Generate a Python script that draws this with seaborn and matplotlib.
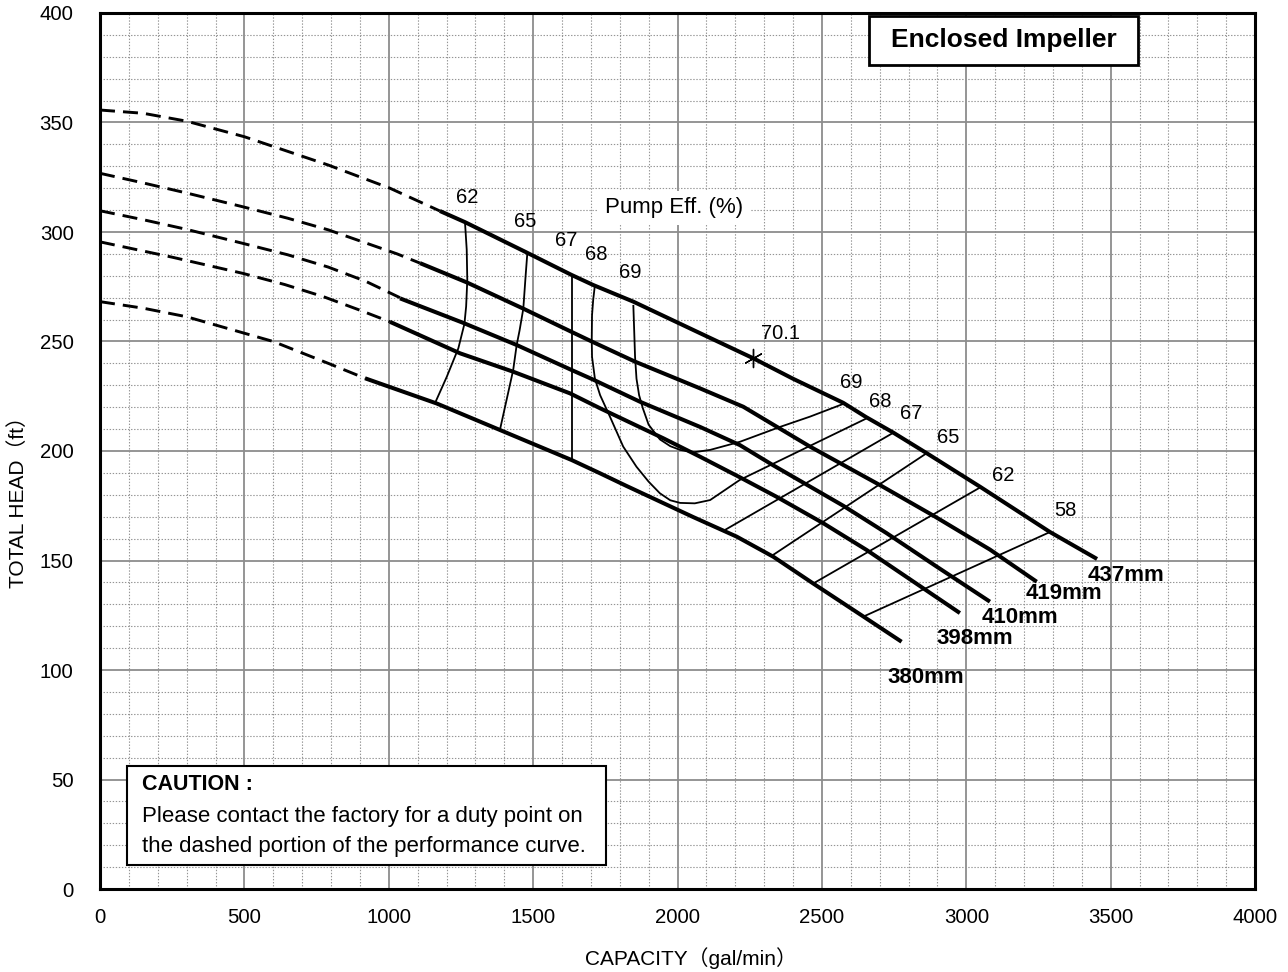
import numpy as np
import pandas as pd
import matplotlib
matplotlib.use("Agg")
import matplotlib.pyplot as plt
import seaborn as sns
from matplotlib.patches import Rectangle
from matplotlib.ticker import MultipleLocator

# ---------------- data ----------------
# Head curves: dashed (consult factory) part and solid part
h437_dash_x = [0, 150, 300, 500, 790, 1004, 1177]
h437_dash_y = [355.7, 354.2, 350.6, 343.5, 330.6, 320, 309.6]
h437_x = [1177, 1264, 1472, 1633, 1708, 1847, 2078, 2263, 2400, 2574, 2653, 2746, 2863, 3050, 3290, 3453]
h437_y = [309.6, 304.5, 291, 280.4, 275.8, 268.2, 253.8, 242.3, 233, 222, 215.5, 208.5, 199, 183.5, 163, 150.7]

h419_dash_x = [0, 150, 300, 495, 650, 790, 1029, 1108]
h419_dash_y = [326.8, 322.4, 317.8, 311.5, 306.3, 301, 290, 285.8]
h419_x = [1108, 1270, 1466, 1633, 1703, 1853, 2078, 2228, 2459, 2707, 2886, 3082, 3244]
h419_y = [285.8, 277, 265, 254.4, 250, 240.8, 228.6, 220.2, 202, 184, 170.5, 155, 140.3]

h410_dash_x = [0, 150, 300, 495, 650, 790, 920, 1039]
h410_dash_y = [309.7, 305.6, 301.2, 294.8, 289.6, 284, 277.5, 270]
h410_x = [1039, 1258, 1443, 1633, 1708, 1870, 2078, 2216, 2331, 2574, 2724, 2900, 3082]
h410_y = [269.7, 258.5, 248.4, 237, 232.6, 222.5, 211, 202.7, 193.5, 175, 162.5, 147, 131.2]

h398_dash_x = [0, 250, 495, 640, 773, 900, 1004]
h398_dash_y = [295.5, 288.5, 281.1, 276, 270.5, 264.3, 259]
h398_x = [1004, 1247, 1431, 1628, 1732, 1951, 2078, 2216, 2343, 2505, 2655, 2978]
h398_y = [259, 244.6, 236.2, 226.3, 219.5, 205.8, 197.4, 188, 179.1, 167, 154.8, 126]

h380_dash_x = [0, 150, 300, 502, 600, 791, 918]
h380_dash_y = [268.2, 265.2, 261.3, 253.7, 250, 240, 233.2]
h380_x = [918, 1166, 1385, 1633, 1732, 1824, 2055, 2205, 2332, 2470, 2644, 2776]
h380_y = [233.2, 221.7, 209.6, 195.9, 189.8, 184, 169.8, 160.9, 151.7, 139.5, 124.4, 112.9]

# Efficiency contours
e62_left_x = [1264, 1270, 1272, 1268, 1262, 1241, 1201, 1160]
e62_left_y = [304.5, 292, 278, 266, 258, 246.9, 233.9, 221.8]
e65_left_x = [1480, 1474, 1466, 1453, 1443, 1431, 1408, 1385]
e65_left_y = [290.5, 280, 265, 255, 248.4, 237, 223.3, 209.6]
e67_left_x = [1635, 1635]
e67_left_y = [280, 195.8]
e68_x = [1714, 1708, 1704, 1703, 1704, 1714, 1732, 1766, 1812, 1858, 1900, 1939, 1975, 2009, 2060, 2113, 2216, 2655]
e68_y = [275.8, 269, 262, 251, 243, 233, 225.5, 215.7, 202, 192.8, 186, 180.7, 177.5, 176.3, 176.1, 177.6, 186.8, 214.9]
e69_x = [1847, 1850, 1853, 1858, 1867, 1880, 1900, 1939, 1975, 2009, 2055, 2113, 2216, 2355, 2459, 2574]
e69_y = [266.7, 255, 243, 233, 225.5, 219.5, 212, 205.3, 202.2, 200.5, 199.4, 200.5, 204.2, 211, 215.7, 221.5]
e67_right_x = [2165, 2747]
e67_right_y = [164, 208.3]
e65_right_x = [2326, 2863]
e65_right_y = [152.1, 199]
e62_right_x = [2470, 3050]
e62_right_y = [139.5, 183.5]
e58_right_x = [2644, 3290]
e58_right_y = [124.4, 163]

# Best efficiency point
bep_x = [2260]
bep_y = [242.3]
bep_label = "70.1"

# Labels
eff_left_labels = ["62", "65", "67", "68", "69"]
eff_right_labels = ["69", "68", "67", "65", "62", "58"]
size_labels = ["437mm", "419mm", "410mm", "398mm", "380mm"]

# ---------------- layout ----------------
eff_left_pos_x = [1271, 1472, 1613, 1720, 1835]
eff_left_pos_y = [315.7, 305, 296, 289.5, 281.5]
eff_right_pos_x = [2603, 2701, 2811, 2938, 3128, 3342]
eff_right_pos_y = [231.3, 222.5, 216.9, 206.2, 189, 173]
size_pos_x = [3552, 3340, 3186, 3030, 2859]
size_pos_y = [143, 135, 124.2, 114.6, 96.6]

sns.set_theme(style="white")
FONT = ["Liberation Sans", "Noto Sans CJK JP", "DejaVu Sans"]
plt.rcParams["font.family"] = FONT
plt.rcParams["lines.scale_dashes"] = False
plt.rcParams["text.color"] = "black"
plt.rcParams["axes.labelcolor"] = "black"
plt.rcParams["xtick.color"] = "black"
plt.rcParams["ytick.color"] = "black"

fig = plt.figure(figsize=(12.88, 9.72), dpi=100)
ax = fig.add_axes([100 / 1288, 83 / 972, 1155 / 1288, 876 / 972])


def draw(xs, ys, lw, dashed=False, z=3):
    df = pd.DataFrame({"x": xs, "y": ys})
    sns.lineplot(data=df, x="x", y="y", ax=ax, sort=False, estimator=None,
                 color="black", linewidth=lw, zorder=z)
    line = ax.lines[-1]
    line.set_solid_capstyle("butt")
    line.set_solid_joinstyle("round")
    if dashed:
        line.set_dashes((10.8, 5.8))
        line.set_dash_capstyle("butt")


HEAD_LW = 2.9
DASH_LW = 2.1
EFF_LW = 1.3

for dx, dy, sx, sy in [
    (h437_dash_x, h437_dash_y, h437_x, h437_y),
    (h419_dash_x, h419_dash_y, h419_x, h419_y),
    (h410_dash_x, h410_dash_y, h410_x, h410_y),
    (h398_dash_x, h398_dash_y, h398_x, h398_y),
    (h380_dash_x, h380_dash_y, h380_x, h380_y),
]:
    draw(dx, dy, DASH_LW, dashed=True)
    draw(sx, sy, HEAD_LW)

for ex, ey in [
    (e62_left_x, e62_left_y), (e65_left_x, e65_left_y), (e67_left_x, e67_left_y),
    (e68_x, e68_y), (e69_x, e69_y),
    (e67_right_x, e67_right_y), (e65_right_x, e65_right_y),
    (e62_right_x, e62_right_y), (e58_right_x, e58_right_y),
]:
    draw(ex, ey, EFF_LW, z=2.5)

sns.scatterplot(x=bep_x, y=bep_y, ax=ax, marker=(6, 2, 0), s=170,
                color="black", linewidth=1.0, zorder=4)

# ---------------- axes ----------------
ax.set_xlim(0, 4000)
ax.set_ylim(0, 400)
ax.xaxis.set_major_locator(MultipleLocator(500))
ax.xaxis.set_minor_locator(MultipleLocator(100))
ax.yaxis.set_major_locator(MultipleLocator(50))
ax.yaxis.set_minor_locator(MultipleLocator(10))
ax.grid(which="major", color="#8c8c8c", linewidth=1.3, linestyle="-")
ax.grid(which="minor", color="#959595", linewidth=0.8, linestyle=(0, (1, 1.2)))
ax.set_axisbelow(True)
for sp in ax.spines.values():
    sp.set_color("black")
    sp.set_linewidth(2.2)
    sp.set_zorder(6)
ax.tick_params(axis="both", which="major", direction="out", length=5, width=1.2,
               color="#555555", labelsize=14.7, labelcolor="black")
ax.tick_params(axis="x", which="major", pad=9)
ax.tick_params(axis="y", which="major", pad=14)
ax.tick_params(which="minor", length=0)

ax.set_xlabel("CAPACITY（gal/min）", fontsize=15, color="black")
ax.set_ylabel("TOTAL HEAD（ft）", fontsize=15, color="black")
ax.xaxis.set_label_coords(0.5117, -0.066)
ax.yaxis.set_label_coords(-0.0623, 0.447)

# ---------------- annotations ----------------
for t, x, y in zip(eff_left_labels, eff_left_pos_x, eff_left_pos_y):
    ax.text(x, y, t, fontsize=14.5, ha="center", va="center", zorder=5)
for t, x, y in zip(eff_right_labels, eff_right_pos_x, eff_right_pos_y):
    ax.text(x, y, t, fontsize=14.5, ha="center", va="center", zorder=5)
for t, x, y in zip(size_labels, size_pos_x, size_pos_y):
    ax.text(x, y, t, fontsize=16, fontweight="bold", ha="center", va="center", zorder=5)

ax.text(2355, 253.7, bep_label, fontsize=14.5, ha="center", va="center", zorder=5)
ax.text(1988, 311, "Pump Eff. (%)", fontsize=16, ha="center", va="center", zorder=5,
        bbox=dict(boxstyle="square,pad=0.3", fc="white", ec="none"))

# Title box
ax.add_patch(Rectangle((2663, 376.3), 932, 22.3, fc="white", ec="black", lw=2.0, zorder=7))
ax.text(3129, 387.6, "Enclosed Impeller", fontsize=19, fontweight="bold",
        ha="center", va="center", zorder=8)

# Caution box
ax.add_patch(Rectangle((93.5, 11), 1658.5, 45.2, fc="white", ec="black", lw=1.5, zorder=7))
ax.text(145.5, 47.9, "CAUTION :", fontsize=15.5, fontweight="bold", ha="left", va="center", zorder=8)
ax.text(145.5, 33.3, "Please contact the factory for a duty point on", fontsize=16,
        ha="left", va="center", zorder=8)
ax.text(145.5, 19.6, "the dashed portion of the performance curve.", fontsize=16,
        ha="left", va="center", zorder=8)

fig.savefig("out.png", dpi=100)
